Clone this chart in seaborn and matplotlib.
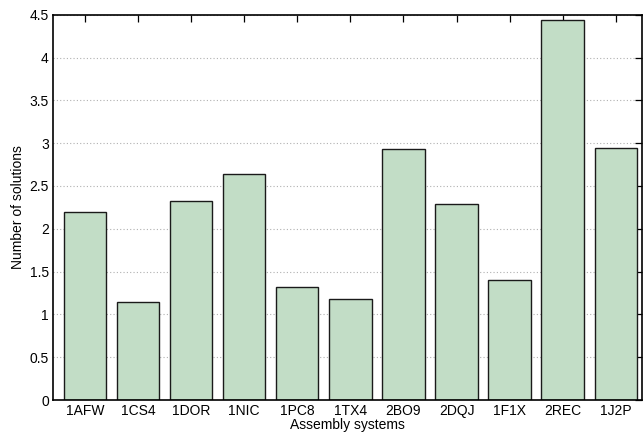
import matplotlib
matplotlib.use("Agg")
import matplotlib.pyplot as plt
import seaborn as sns
import pandas as pd

# --- DATA ---
systems = ["1AFW", "1CS4", "1DOR", "1NIC", "1PC8", "1TX4",
           "2BO9", "2DQJ", "1F1X", "2REC", "1J2P"]
solutions = [2.20, 1.14, 2.32, 2.64, 1.32, 1.18, 2.93, 2.29, 1.40, 4.44, 2.94]
y_ticks = [0, 0.5, 1, 1.5, 2, 2.5, 3, 3.5, 4, 4.5]
y_tick_labels = ["0", "0.5", "1", "1.5", "2", "2.5", "3", "3.5", "4", "4.5"]

df = pd.DataFrame({"system": systems, "solutions": solutions})

sns.set_theme(style="white")
plt.rcParams["font.family"] = ["Liberation Sans", "DejaVu Sans"]

fig = plt.figure(figsize=(6.43, 4.32), dpi=100)
ax = fig.add_axes([0.0824, 0.074, 0.9166, 0.892])

sns.barplot(x="system", y="solutions", data=df, ax=ax, order=systems,
            color="#c2ddc6", saturation=1, width=0.8,
            edgecolor="#1a1a1a", linewidth=1.0, zorder=2)

ax.set_xlim(-0.6, 10.5)
ax.set_ylim(0, 4.5)
ax.set_yticks(y_ticks)
ax.set_yticklabels(y_tick_labels)

# MATLAB-like dotted horizontal grid
ax.yaxis.grid(True, linestyle=(0, (1, 2)), color="#b0b0b0", linewidth=0.8, zorder=0)
ax.xaxis.grid(False)
ax.set_axisbelow(True)

for side in ["left", "right", "top", "bottom"]:
    ax.spines[side].set_visible(True)
    ax.spines[side].set_color("black")
    ax.spines[side].set_linewidth(1.2)

ax.tick_params(axis="both", direction="in", length=5, width=0.9, color="black",
               top=True, right=True, labelsize=10, pad=3, labelcolor="black")

ax.set_xlabel("Assembly systems", fontsize=10, labelpad=0, color="black")
ax.set_ylabel("Number of solutions", fontsize=10, labelpad=3, color="black")

fig.savefig("out.png", dpi=100)
